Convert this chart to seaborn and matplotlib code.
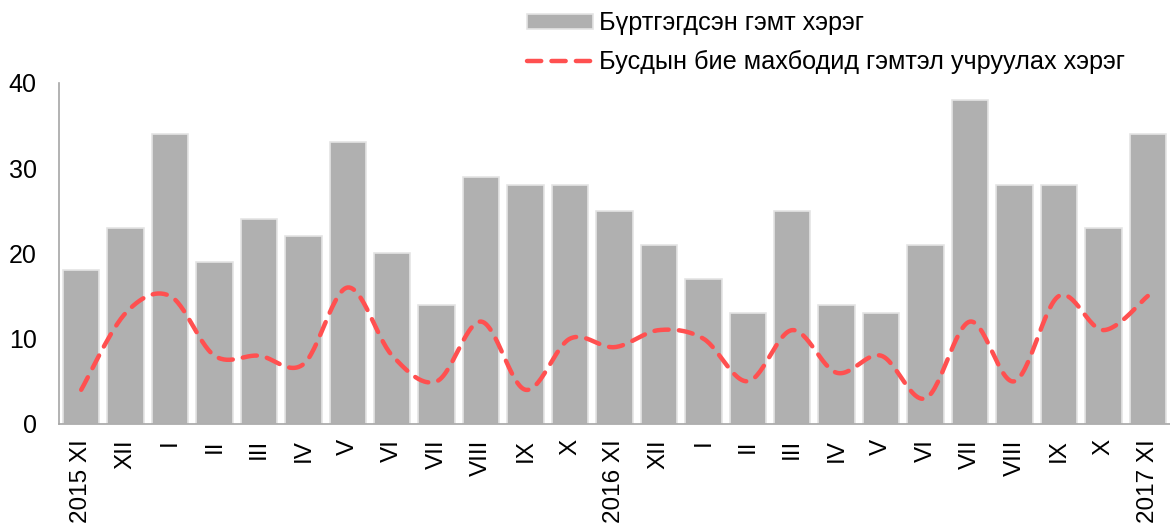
import numpy as np
import pandas as pd
import matplotlib
matplotlib.use("Agg")
import matplotlib.pyplot as plt
import seaborn as sns

# Monthly data, 2015 XI - 2017 XI
months = ["2015 XI", "XII", "I", "II", "III", "IV", "V", "VI", "VII", "VIII", "IX", "X",
          "2016 XI", "XII", "I", "II", "III", "IV", "V", "VI", "VII", "VIII", "IX", "X",
          "2017 XI"]
registered = [18, 23, 34, 19, 24, 22, 33, 20, 14, 29, 28, 28,
              25, 21, 17, 13, 25, 14, 13, 21, 38, 28, 28, 23, 34]
injury = [4, 13, 15, 8, 8, 7, 16, 8, 5, 12, 4, 10,
          9, 11, 10, 5, 11, 6, 8, 3, 12, 5, 15, 11, 15]

bar_label = "Бүртгэгдсэн гэмт хэрэг"
line_label = "Бусдын бие махбодид гэмтэл учруулах хэрэг"

sns.set_style("white")
plt.rcParams['font.family'] = ['Liberation Sans', 'DejaVu Sans']
plt.rcParams['text.color'] = 'black'
plt.rcParams['xtick.labelcolor'] = 'black'
plt.rcParams['ytick.labelcolor'] = 'black'

fig = plt.figure(figsize=(11.7, 5.24), dpi=100)
ax = fig.add_axes([0.0504, 0.191, 0.9496, 0.651])

df = pd.DataFrame({"pos": np.arange(len(months)), "val": registered})
sns.barplot(data=df, x="pos", y="val", color="#b0b0b0", saturation=1,
            width=0.82, edgecolor="#e4e4e4", linewidth=1.2, ax=ax)


# smoothed line like a spreadsheet "smoothed line" (Catmull-Rom as Bezier)
def smooth(y, n=30):
    y = np.asarray(y, float)
    x = np.arange(len(y), dtype=float)
    xs, ys = [], []
    for i in range(len(y) - 1):
        p0 = (x[i], y[i])
        p3 = (x[i + 1], y[i + 1])
        a = (x[i - 1], y[i - 1]) if i > 0 else p0
        b = (x[i + 2], y[i + 2]) if i + 2 < len(y) else p3
        p1 = (p0[0] + (p3[0] - a[0]) / 6, p0[1] + (p3[1] - a[1]) / 6)
        p2 = (p3[0] - (b[0] - p0[0]) / 6, p3[1] - (b[1] - p0[1]) / 6)
        t = np.linspace(0, 1, n)
        for k in range(2):
            c = [p0[k], p1[k], p2[k], p3[k]]
            v = ((1 - t) ** 3 * c[0] + 3 * (1 - t) ** 2 * t * c[1]
                 + 3 * (1 - t) * t ** 2 * c[2] + t ** 3 * c[3])
            (xs if k == 0 else ys).append(v if i == 0 else v[1:])
    return np.concatenate(xs), np.concatenate(ys)


sx, sy = smooth(injury)
line, = ax.plot(sx, sy, color="#ff5050", lw=3.2, ls=(0, (3.2, 2.3)),
                dash_capstyle="round")

ax.set_ylim(0, 40)
ax.set_xlim(-0.5, 24.45)
ax.set_yticks([0, 10, 20, 30, 40])
ax.set_xticks(np.arange(len(months)))
ax.set_xticklabels(months, rotation=90, fontsize=17.5)
ax.set_xticks(np.arange(len(months) + 1) - 0.5, minor=True)
ax.tick_params(axis="x", which="major", length=0, pad=11)
ax.tick_params(axis="x", which="minor", length=7, color="#a6a6a6", width=1)
ax.tick_params(axis="y", length=6, color="#a6a6a6", width=1, labelsize=18, pad=10)
ax.set_xlabel("")
ax.set_ylabel("")

for s in ["top", "right"]:
    ax.spines[s].set_visible(False)
for s in ["left", "bottom"]:
    ax.spines[s].set_color("#a6a6a6")
    ax.spines[s].set_linewidth(1.2)

bar_handle = ax.patches[0]
fig.legend([bar_handle, line], [bar_label, line_label], loc="upper left",
           bbox_to_anchor=(0.431, 1.022), frameon=False, fontsize=18.2,
           handlelength=2.6, handleheight=0.55, handletextpad=0.25,
           labelspacing=0.58)

fig.savefig("out.png", dpi=100)
